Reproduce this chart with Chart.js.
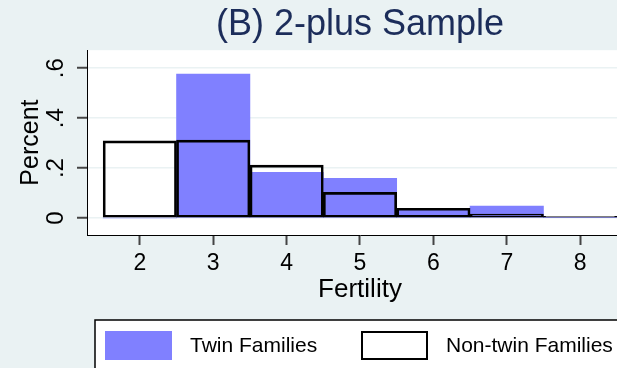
<!DOCTYPE html>
<html>
<head>
<meta charset="utf-8">
<title>(B) 2-plus Sample</title>
<script src="https://cdn.jsdelivr.net/npm/chart.js@4.4.1/dist/chart.umd.min.js"></script>
<style>
  html, body { margin: 0; padding: 0; background: #eaf2f3; overflow: hidden; }
  #frame { width: 617px; height: 368px; overflow: hidden; position: relative; }
  #stage { position: absolute; left: 0; top: 0; width: 720px; height: 368px; }
</style>
</head>
<body>
<div id="frame"><div id="stage"><canvas id="hist" width="720" height="368"></canvas></div></div>
<script>
// Fertility (number of children) categories, one histogram bin each
const fertility = [2, 3, 4, 5, 6, 7, 8];
// Share of families in each bin
const twinFamilies    = [0.000, 0.576, 0.183, 0.159, 0.038, 0.048, 0.002];
const nonTwinFamilies = [0.309, 0.312, 0.212, 0.103, 0.039, 0.016, 0.007];
// Vertical axis ticks and their printed labels
const yTickValues = [0, 0.2, 0.4, 0.6];
const yTickLabels = ['0', '.2', '.4', '.6'];

const FONT = '"Liberation Sans", Arial, Helvetica, sans-serif';
Chart.defaults.font.family = FONT;
Chart.defaults.color = '#000';

const BG = '#eaf2f3';
const TWIN_BLUE = '#8080ff';

const toPoints = vals => fertility.map((f, i) => ({ x: f, y: vals[i] }));

// White plot region on the tinted page
const plotRegion = {
  id: 'plotRegion',
  beforeDraw(chart) {
    const { ctx, chartArea: a } = chart;
    ctx.save();
    ctx.fillStyle = '#ffffff';
    ctx.fillRect(a.left, a.top, a.right - a.left, a.bottom - a.top);
    ctx.restore();
  }
};

// Boxed legend under the axis title, centred on the plot region
const boxedLegend = {
  id: 'boxedLegend',
  afterDraw(chart) {
    const { ctx, chartArea: a } = chart;
    const cx = (a.left + a.right) / 2;
    const boxW = 530, boxTop = 320;
    const left = cx - boxW / 2;
    ctx.save();
    ctx.fillStyle = '#ffffff';
    ctx.fillRect(left, boxTop, boxW, 70);
    ctx.strokeStyle = '#000';
    ctx.lineWidth = 1.5;
    ctx.strokeRect(left, boxTop, boxW, 70);

    const entries = [
      chart.data.datasets.find(d => d.label === 'Twin Families'),
      chart.data.datasets.find(d => d.label === 'Non-twin Families')
    ];
    const swW = 67, swH = 29, swTop = boxTop + 11;
    const itemX = [left + 10, left + 266];
    ctx.font = '21px ' + FONT;
    ctx.textBaseline = 'middle';
    ctx.textAlign = 'left';
    entries.forEach((ds, i) => {
      const x = itemX[i];
      if (ds.borderWidth) {
        ctx.fillStyle = '#ffffff';
        ctx.fillRect(x, swTop, swW, swH);
        ctx.strokeStyle = ds.borderColor;
        ctx.lineWidth = 2;
        ctx.strokeRect(x + 1, swTop + 1, swW - 2, swH - 2);
      } else {
        ctx.fillStyle = ds.backgroundColor;
        ctx.fillRect(x, swTop, swW, swH);
      }
      ctx.fillStyle = '#000';
      ctx.fillText(ds.label, x + swW + 18, swTop + swH / 2 + 1);
    });
    ctx.restore();
  }
};

new Chart(document.getElementById('hist'), {
  type: 'bar',
  data: {
    datasets: [
      {
        label: 'Non-twin Families',
        data: toPoints(nonTwinFamilies),
        backgroundColor: 'rgba(0,0,0,0)',
        borderColor: '#000',
        borderWidth: 2,
        borderSkipped: false,
        order: 0
      },
      {
        label: 'Twin Families',
        data: toPoints(twinFamilies),
        backgroundColor: TWIN_BLUE,
        borderWidth: 0,
        order: 1
      }
    ]
  },
  options: {
    responsive: false,
    animation: false,
    devicePixelRatio: 1,
    layout: { padding: { left: 0, right: 0, top: 0, bottom: 58 } },
    datasets: {
      bar: { grouped: false, barPercentage: 1, categoryPercentage: 1 }
    },
    plugins: {
      legend: { display: false },
      tooltip: { enabled: false },
      title: {
        display: true,
        text: '(B) 2-plus Sample',
        color: '#1c2d5a',
        font: { size: 36, weight: 'normal', family: FONT },
        padding: { top: 3, bottom: 4 }
      }
    },
    scales: {
      x: {
        type: 'linear',
        offset: false,
        min: 1.28,
        max: 8.72,
        afterBuildTicks: s => { s.ticks = fertility.map(v => ({ value: v })); },
        afterFit: s => { s.height = 75; },
        border: { display: true, color: '#000', width: 1 },
        grid: { offset: false, drawOnChartArea: false, tickLength: 10, tickColor: '#444', tickWidth: 2 },
        ticks: {
          autoSkip: false, maxRotation: 0, padding: 5,
          font: { size: 23 }, color: '#000',
          callback: v => String(v)
        },
        title: {
          display: true, text: 'Fertility', color: '#000',
          font: { size: 26 }, padding: { top: 0, bottom: 5 }
        }
      },
      y: {
        min: -0.068,
        max: 0.672,
        afterBuildTicks: s => { s.ticks = yTickValues.map(v => ({ value: v })); },
        afterFit: s => { s.width = 87; },
        border: { display: true, color: '#000', width: 1 },
        grid: { color: BG, lineWidth: 1.5, tickColor: '#444', tickLength: 10, tickWidth: 2 },
        ticks: {
          minRotation: 90, maxRotation: 90, crossAlign: 'center', padding: 11,
          font: { size: 24 }, color: '#000',
          callback: (v, i) => yTickLabels[i]
        },
        title: {
          display: true, text: 'Percent', color: '#000',
          font: { size: 25 }, padding: { top: 16 }
        }
      },
      // empty right margin so the plot region sits centred under the title
      margin: {
        position: 'right',
        display: true,
        afterFit: s => { s.width = 87; },
        border: { display: false },
        grid: { display: false },
        ticks: { display: false }
      }
    }
  },
  plugins: [plotRegion, boxedLegend]
});
</script>
</body>
</html>
